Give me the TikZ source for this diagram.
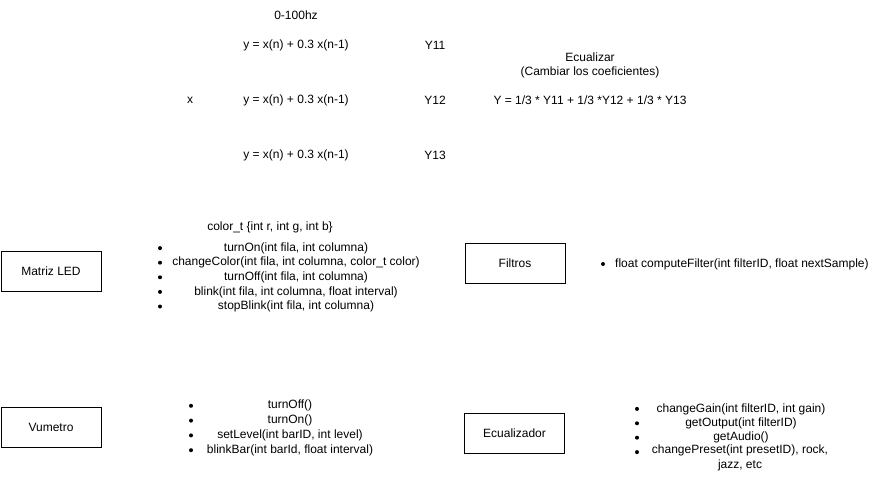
\documentclass[tikz,border=0pt]{standalone}
\usepackage{fontspec}
\setmainfont{Liberation Sans}
\usepackage{xcolor}

\begin{document}
\begin{tikzpicture}[x=1pt,y=-1pt,
	txt/.style={inner sep=0pt,font=\fontsize{12}{14.4}\selectfont},
	modulo/.style={txt,draw,line width=1pt,minimum width=100pt,minimum height=40pt}]
	\useasboundingbox (0,0) rectangle (878,485);
	% banco de filtros
	\node[txt] (banda) at (296,15) {0-100hz};
	\node[txt] (entrada) at (190,100) {x};
	\foreach \y/\s in {45/11,100/12,155/13}{
		\node[txt] (filtro\s) at (296,\y) {y = x(n) + 0.3 x(n-1)};
		\node[txt] (salida\s) at (435,\y) {Y\s};
	}
	\node[txt,align=center] (ecualizar) at (590,65.5) {Ecualizar\\(Cambiar los coeficientes)};
	\node[txt] (suma) at (590,100) {Y = 1/3 * Y11 + 1/3 *Y12 + 1/3 * Y13};
	% modulos
	\node[modulo] (matriz) at (51,271) {Matriz LED};
	\node[modulo] (filtros) at (515,263) {Filtros};
	\node[modulo] (vumetro) at (51,427) {Vumetro};
	\node[modulo] (ecualizador) at (514.5,433) {Ecualizador};
	% metodos
	\node[txt] (colort) at (270,227) {color\_t \{int r, int g, int b\}};
	\foreach \t [count=\i] in {{turnOn(int fila, int columna)},{changeColor(int fila, int columna, color\_t color)},{turnOff(int fila, int columna)},{blink(int fila, int columna, float interval)},{stopBlink(int fila, int columna)}}{
		\fill (160,233.5+14.6*\i) circle (2);
		\node[txt] (led\i) at (296,233.5+14.6*\i) {\t};
	}
	\fill (603,264) circle (2);
	\node[txt,anchor=west] (filtro) at (615,264) {float computeFilter(int filterID, float nextSample)};
	\foreach \t [count=\i] in {{turnOff()},{turnOn()},{setLevel(int barID, int level)},{blinkBar(int barId, float interval)}}{
		\fill (191,391+14.8*\i) circle (2);
		\node[txt] (vu\i) at (290,391+14.8*\i) {\t};
	}
	\foreach \t [count=\i] in {{changeGain(int filterID, int gain)},{getOutput(int filterID)},{getAudio()}}{
		\fill (637,394.5+14.4*\i) circle (2);
		\node[txt] (eq\i) at (741,394.5+14.4*\i) {\t};
	}
	\fill (637,452.1) circle (2);
	\node[txt,align=center,anchor=north] (eq4) at (740,445) {changePreset(int presetID), rock,\\jazz, etc};
\end{tikzpicture}
\end{document}
